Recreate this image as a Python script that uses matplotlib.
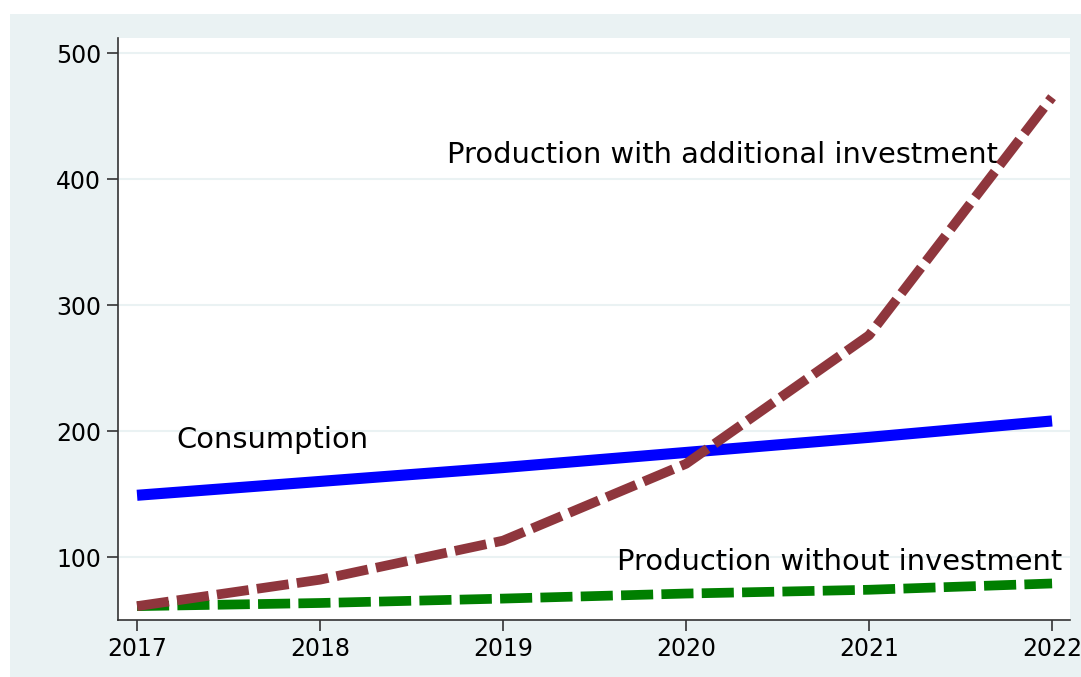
import matplotlib
matplotlib.use("Agg")
import matplotlib.pyplot as plt
from matplotlib.patches import Rectangle

plt.rcParams["font.family"] = ["DejaVu Sans"]

years = [2017, 2018, 2019, 2020, 2021, 2022]
consumption = [149, 160, 171, 183, 195, 208]
prod_additional = [61, 82, 113, 174, 276, 465]
prod_without = [61, 63.5, 67, 71, 74, 79]
yticks = [100, 200, 300, 400, 500]

W, H = 1081, 677
fig = plt.figure(figsize=(W / 100, H / 100), dpi=100)
fig.patch.set_facecolor("white")
fig.patches.append(Rectangle((10 / W, 0), 1 - 10 / W, (H - 14) / H,
                             transform=fig.transFigure, facecolor="#eaf2f3",
                             edgecolor="none", zorder=-10))

ax = fig.add_axes([118 / W, (H - 620) / H, (1070 - 118) / W, (620 - 38) / H])
ax.set_facecolor("white")

ax.plot(years, consumption, color="#0000ff", lw=8, solid_capstyle="butt", zorder=3)
ax.plot(years, prod_additional, color="#8f363d", lw=7, dashes=(3.3, 0.85),
        dash_capstyle="butt", zorder=4)
ax.plot(years, prod_without, color="#007f00", lw=7, dashes=(3.3, 0.85),
        dash_capstyle="butt", zorder=3)

ax.text(2020.2, 419, "Production with additional investment", fontsize=20.8,
        ha="center", va="center")
ax.text(2017.74, 193, "Consumption", fontsize=20.8, ha="center", va="center")
ax.text(2020.84, 96, "Production without investment", fontsize=20.8,
        ha="center", va="center")

ax.set_xlim(2016.896, 2022.098)
ax.set_ylim(50, 512)
ax.set_xticks(years)
ax.set_yticks(yticks)
ax.tick_params(labelsize=17, length=8, width=1.2, color="#333333", pad=4)
ax.yaxis.grid(True, color="#eaf2f3", lw=1.5)
ax.set_axisbelow(True)
for side in ["top", "right"]:
    ax.spines[side].set_visible(False)
for side in ["left", "bottom"]:
    ax.spines[side].set_color("#333333")
    ax.spines[side].set_linewidth(1.2)

fig.savefig("out.png", dpi=100)
